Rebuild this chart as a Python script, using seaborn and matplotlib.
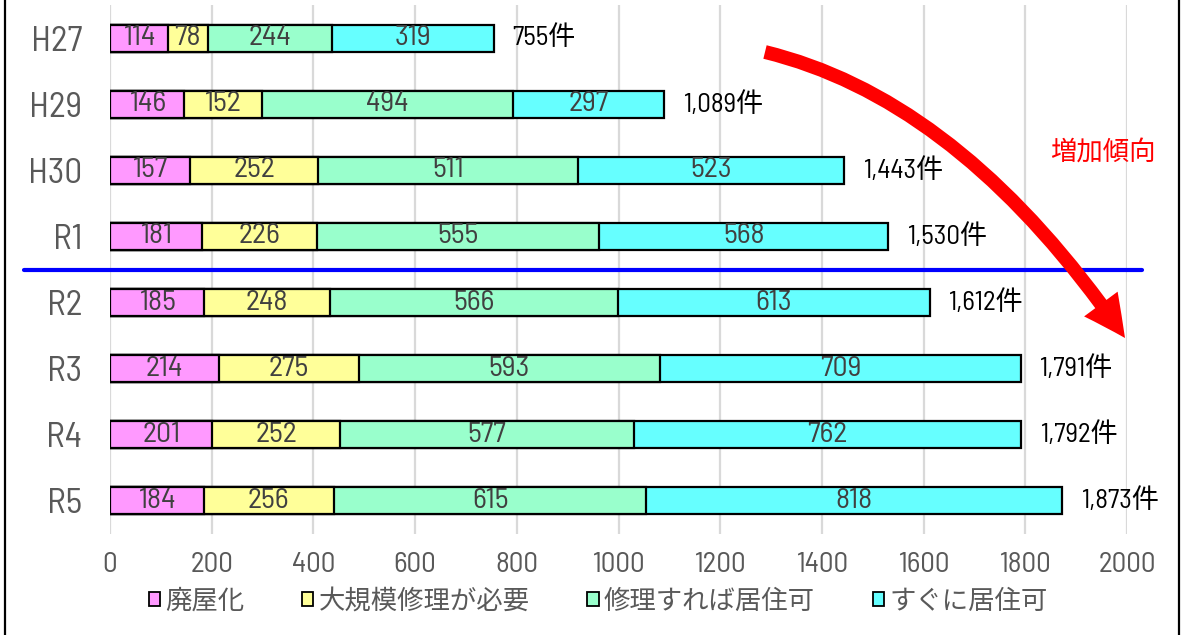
import numpy as np
import pandas as pd
import matplotlib
matplotlib.use("Agg")
import matplotlib.pyplot as plt
import seaborn as sns
from matplotlib.patches import Patch, FancyArrowPatch
from matplotlib.path import Path
from matplotlib.lines import Line2D
import matplotlib.transforms as mtransforms

# ---- data ----
categories = ["H27", "H29", "H30", "R1", "R2", "R3", "R4", "R5"]
series_names = ["廃屋化", "大規模修理が必要", "修理すれば居住可", "すぐに居住可"]
haioku = [114, 146, 157, 181, 185, 214, 201, 184]
daikibo = [78, 152, 252, 226, 248, 275, 252, 256]
shuri = [244, 494, 511, 555, 566, 593, 577, 615]
sugu = [319, 297, 523, 568, 613, 709, 762, 818]
totals = [755, 1089, 1443, 1530, 1612, 1791, 1792, 1873]
x_ticks = [0, 200, 400, 600, 800, 1000, 1200, 1400, 1600, 1800, 2000]
colors = ["#FF99FF", "#FFFF99", "#99FFCC", "#66FFFF"]

sns.set_theme(style="white")
num_font = "Barlow Semi Condensed"
cjk = "Noto Sans CJK JP"
FAM = [num_font, cjk, "DejaVu Sans"]
plt.rcParams["font.family"] = FAM
NUM = dict(family=FAM, stretch="condensed", weight="normal")

W, H = 1186, 635
fig = plt.figure(figsize=(W / 100, H / 100), dpi=100)
ax = fig.add_axes([110 / W, 1 - 534 / H, (1127 - 110) / W, (534 - 5) / H])

series = [haioku, daikibo, shuri, sugu]
cum = np.cumsum(np.array(series), axis=0)

# draw cumulative layers, longest first (overlay gives stacked look)
for i in range(3, -1, -1):
    df = pd.DataFrame({"cat": categories, "val": cum[i]})
    sns.barplot(data=df, x="val", y="cat", orient="h", color=colors[i],
                saturation=1, edgecolor="black", linewidth=1.6, width=0.41,
                ax=ax, order=categories, zorder=3)

# segment labels
for i in range(4):
    for j, cat in enumerate(categories):
        v = series[i][j]
        xc = cum[i][j] - v / 2
        ax.text(xc, j, f"{v}", ha="center", va="center", fontsize=21.5,
                color="#404040", zorder=5, **NUM)

# totals
for j, t in enumerate(totals):
    ax.text(t + 37, j, f"{t:,}件", ha="left", va="center", fontsize=19.5,
            color="black", clip_on=False, zorder=5, **NUM)

ax.set_xlim(0, 2000)
ax.set_ylim(len(categories) - 0.5, -0.5)
ax.set_xticks(x_ticks)
ax.set_xticklabels([str(v) for v in x_ticks])
ax.set_xlabel("")
ax.set_ylabel("")
ax.xaxis.grid(True, color="#D9D9D9", linewidth=1.6, zorder=0)
ax.yaxis.grid(False)
ax.set_axisbelow(True)
for s in ax.spines.values():
    s.set_visible(False)
ax.tick_params(axis="y", length=0, pad=20, labelsize=25.5, labelcolor="#595959")
ax.tick_params(axis="x", length=0, pad=13, labelsize=21, labelcolor="#595959")
for lab in ax.get_xticklabels() + ax.get_yticklabels():
    lab.set_fontstretch("condensed")
    lab.set_family(FAM)

# blue separator line between R1 and R2
trans = mtransforms.blended_transform_factory(fig.transFigure, ax.transData)
ax.add_line(Line2D([24 / W, 1142 / W], [3.5, 3.5], transform=trans,
                   color="#0000FF", linewidth=3, clip_on=False, zorder=6))

# red curved arrow
def fp(x, y):
    return (x / W, 1 - y / H)

verts = [fp(765, 52), fp(962, 100), fp(1125, 338)]
path = Path(verts, [Path.MOVETO, Path.CURVE3, Path.CURVE3])
arrow = FancyArrowPatch(path=path, transform=fig.transFigure,
                        arrowstyle="simple,head_length=30,head_width=30,tail_width=10",
                        mutation_scale=1, color="#FF0000", lw=0, zorder=7)
fig.add_artist(arrow)
fig.text(1103 / W, 1 - 152 / H, "増加傾向", ha="center", va="center",
         fontsize=19, color="#FF0000", family=[cjk, "DejaVu Sans"])

# legend
handles = [Patch(facecolor=c, edgecolor="black", linewidth=1.3) for c in colors]
leg = fig.legend(handles, series_names, loc="center", bbox_to_anchor=(598 / W, 1 - 601 / H),
                 ncol=4, frameon=False, handlelength=0.42, handleheight=0.42,
                 handletextpad=0.2, columnspacing=2.2, labelcolor="#595959",
                 prop={"family": [cjk, "DejaVu Sans"], "size": 19})

# figure border (vertical sides)
fig.add_artist(Line2D([5 / W, 5 / W], [0, 1], transform=fig.transFigure, color="black", lw=1.6))
fig.add_artist(Line2D([1179 / W, 1179 / W], [0, 1], transform=fig.transFigure, color="black", lw=1.6))

fig.savefig("out.png", dpi=100)
